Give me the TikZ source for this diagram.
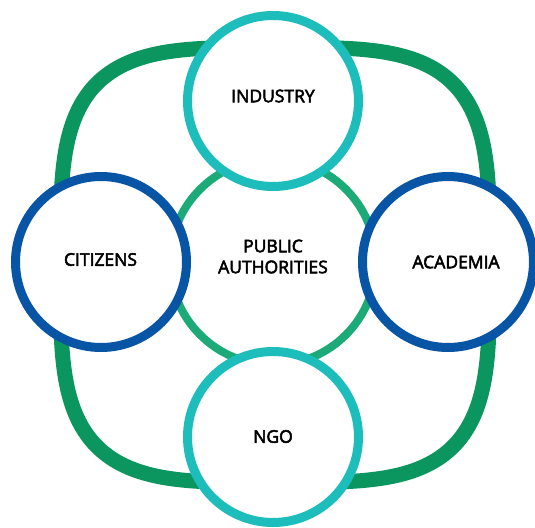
\documentclass[tikz,border=0pt]{standalone}
\usepackage{fontspec}
\newfontfamily\labelfont{Open Sans}[FakeBold=3]
\definecolor{ringgreen}{HTML}{0A965E}
\definecolor{coregreen}{HTML}{1BAA78}
\definecolor{actorteal}{HTML}{1DBDBB}
\definecolor{actorblue}{HTML}{0854A5}
\tikzset{
  actor/.style={circle, draw, fill=white, line width=9pt, minimum size=171pt, inner sep=0pt},
  tag/.style={font=\labelfont\fontsize{17.5}{21}\selectfont, align=center, inner sep=0pt},
}

\begin{document}
\begin{tikzpicture}[x=1pt, y=-1pt]
			\useasboundingbox (0, 0) rectangle (535, 527);
			% outer ring, a squircle
			\draw[ringgreen, line width=15pt] plot[domain=1:359, samples=180, smooth cycle]
			  ({275+214.5*sign(cos(\x))*abs(cos(\x))^0.53}, {265+217.5*sign(sin(\x))*abs(sin(\x))^0.53});
			\node[circle, draw=coregreen, line width=8pt, minimum size=206pt, inner sep=0pt] (pa) at (273, 262) {};
			\node[tag] (pa-tag) at (273, 256.5) {PUBLIC\\AUTHORITIES};
			% stakeholders
			\node[actor, draw=actorteal] (industry) at (273, 101) {};
			\node[actor, draw=actorteal] (ngo) at (273, 437) {};
			\node[actor, draw=actorblue] (citizens) at (101, 262) {};
			\node[actor, draw=actorblue] (academia) at (448, 262) {};
			\node[tag] (industry-tag) at (273, 96) {INDUSTRY};
			\node[tag] (ngo-tag) at (273, 436.5) {NGO};
			\node[tag] (citizens-tag) at (100.5, 259.5) {CITIZENS};
			\node[tag] (academia-tag) at (456, 262) {ACADEMIA};
			\end{tikzpicture}
\end{document}
